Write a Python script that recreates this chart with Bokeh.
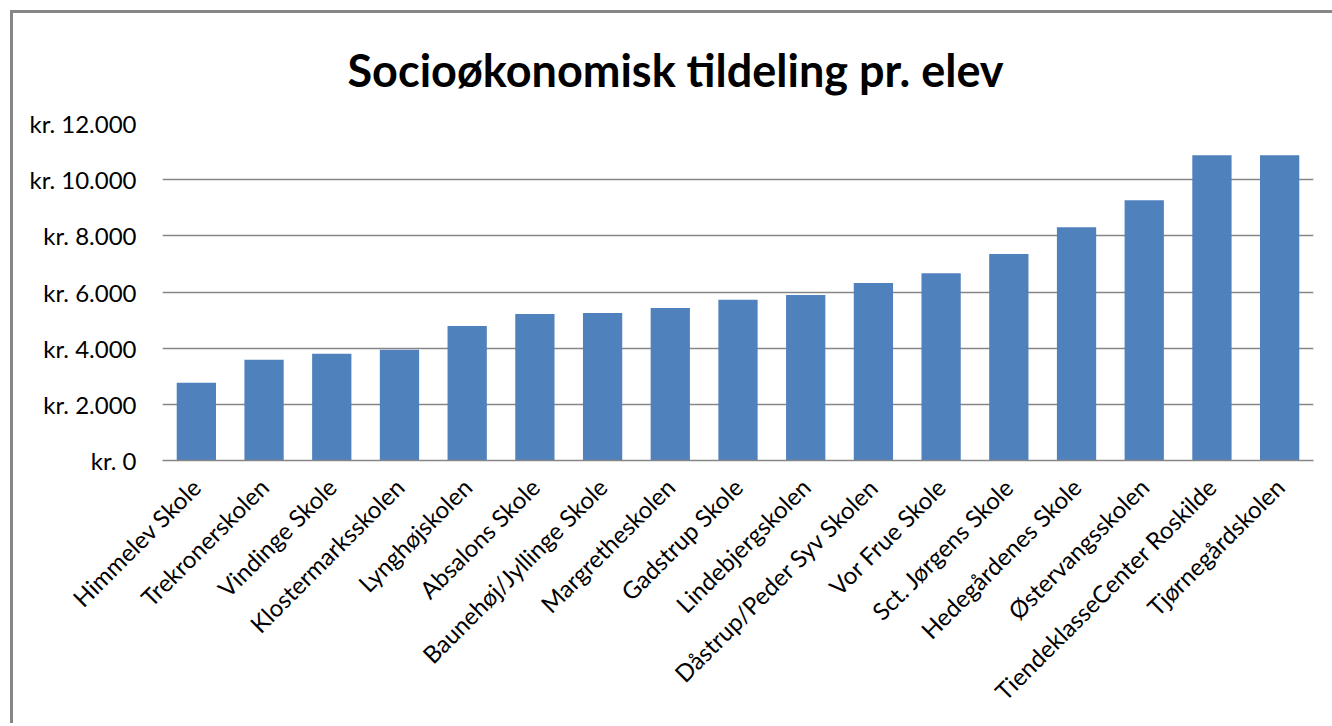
from bokeh.plotting import figure
from bokeh.models import FixedTicker, Title
from bokeh.embed import file_html
from bokeh.resources import INLINE

schools = ["Himmelev Skole", "Trekronerskolen", "Vindinge Skole", "Klostermarksskolen",
           "Lynghøjskolen", "Absalons Skole", "Baunehøj/Jyllinge Skole", "Margretheskolen",
           "Gadstrup Skole", "Lindebjergskolen", "Dåstrup/Peder Syv Skolen", "Vor Frue Skole",
           "Sct. Jørgens Skole", "Hedegårdenes Skole", "Østervangsskolen",
           "TiendeklasseCenter Roskilde", "Tjørnegårdskolen"]
amounts = [2770, 3590, 3800, 3940, 4790, 5220, 5250, 5430, 5720, 5890, 6320, 6670,
           7350, 8310, 9270, 10870, 10870]
y_ticks = [0, 2000, 4000, 6000, 8000, 10000, 12000]
y_tick_labels = ["kr. 0", "kr. 2.000", "kr. 4.000", "kr. 6.000", "kr. 8.000",
                 "kr. 10.000", "kr. 12.000"]
title_text = "Socioøkonomisk tildeling pr. elev"

FONT = "Lato"
GRID = "#868686"

p = figure(x_range=schools, y_range=(0, 12000), width=1303, height=713,
           output_backend="svg", toolbar_location=None,
           min_border_left=149, min_border_right=3, min_border_top=109,
           min_border_bottom=266)

p.title = Title(text=title_text, text_font=FONT, text_font_size="45px",
                text_font_style="bold", align="left", offset=185,
                text_color="#000000", standoff=54)

p.vbar(x=schools, top=amounts, width=0.58, color="#4F81BD", line_color=None)

p.yaxis.ticker = FixedTicker(ticks=y_ticks)
p.yaxis.major_label_overrides = {t: l for t, l in zip(y_ticks, y_tick_labels)}
p.yaxis.major_label_text_font = FONT
p.yaxis.major_label_text_font_size = "24px"
p.yaxis.major_label_text_color = "#000000"
p.yaxis.axis_line_color = None
p.yaxis.major_tick_line_color = None
p.yaxis.minor_tick_line_color = None
p.yaxis.major_label_standoff = 20

p.xaxis.major_label_orientation = 0.785398
p.xaxis.major_label_text_font = FONT
p.xaxis.major_label_text_font_size = "24px"
p.xaxis.major_label_text_color = "#000000"
p.xaxis.axis_line_color = GRID
p.xaxis.axis_line_width = 1.5
p.xaxis.major_tick_line_color = None
p.xaxis.minor_tick_line_color = None
p.xaxis.major_label_standoff = 16

p.xgrid.grid_line_color = None
p.ygrid.grid_line_color = GRID
p.ygrid.grid_line_width = 1.5

p.outline_line_color = None
p.styles = {"margin-left": "13px", "margin-top": "13px", "background-color": "white",
            "box-shadow": "-3px -3px 0 0 #868686, 371px -358px 0 -355px #868686"}

open("out.html", "w").write(file_html(p, INLINE))
